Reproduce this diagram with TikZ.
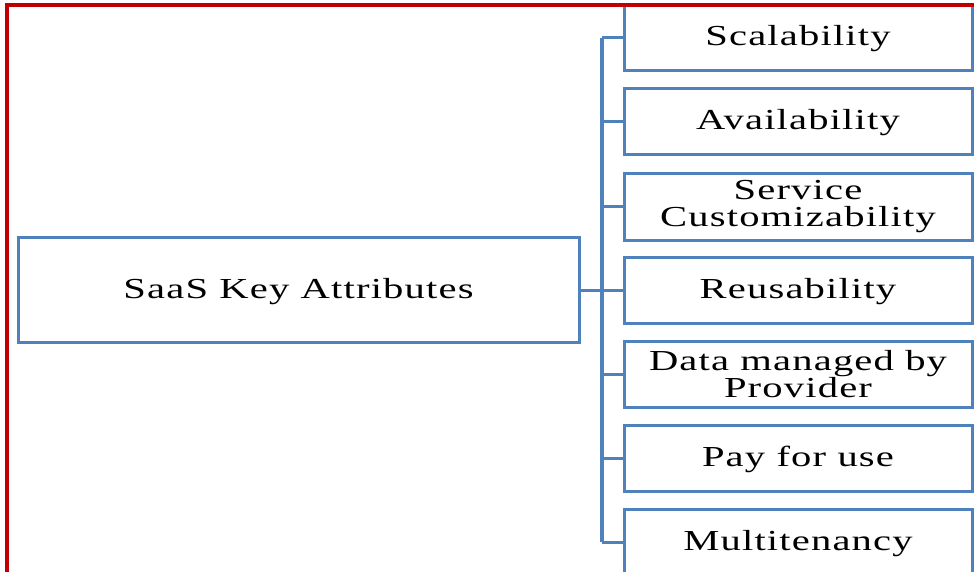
\documentclass[tikz,border=0pt]{standalone}
\usepackage{fontspec}
\setmainfont{Liberation Serif}[FakeStretch=1.4,LetterSpace=4]
\definecolor{boxblue}{RGB}{79,129,189}
\definecolor{framered}{RGB}{192,0,0}
\begin{document}
\begin{tikzpicture}[x=1pt,y=-1pt,
  attr/.style={draw=boxblue,line width=3pt,minimum width=348pt,minimum height=66pt,inner sep=0pt,align=center,font=\fontsize{29}{27}\selectfont},
  oneline/.style={text height=22pt,text depth=6pt},
  mainbox/.style={draw=boxblue,line width=3pt,minimum width=561pt,minimum height=105pt,inner sep=0pt,align=center,font=\fontsize{29}{27}\selectfont,oneline},
  link/.style={draw=boxblue,line width=3pt},
  trunk/.style={draw=boxblue,line width=4pt}]
\useasboundingbox (0,0) rectangle (974,572);
\clip (0,0) rectangle (974,572);
\node[mainbox] (main) at (298.5,290) {SaaS Key Attributes};
\node[attr,oneline] (s1) at (798,38) {Scalability};
\node[attr,oneline] (s2) at (798,122) {Availability};
\node[attr] (s3) at (798,207) {Service\\Customizability};
\node[attr,oneline] (s4) at (798,290) {Reusability};
\node[attr] (s5) at (798,374) {Data managed by\\Provider};
\node[attr,oneline] (s6) at (798,458) {Pay for use};
\node[attr,oneline] (s7) at (798,542) {Multitenancy};
\coordinate (j) at (602,290);
\draw[link] (main.east) -- (j);
\draw[trunk] (j |- s1.west) -- (j |- s7.west);
\foreach \n in {s1,s2,s3,s4,s5,s6,s7}{
  \draw[link] (j |- \n.west) -- (\n.west);
}
\draw[framered,line width=4pt] (7,572) -- (7,5.5) -- (974,5.5);
\end{tikzpicture}
\end{document}
